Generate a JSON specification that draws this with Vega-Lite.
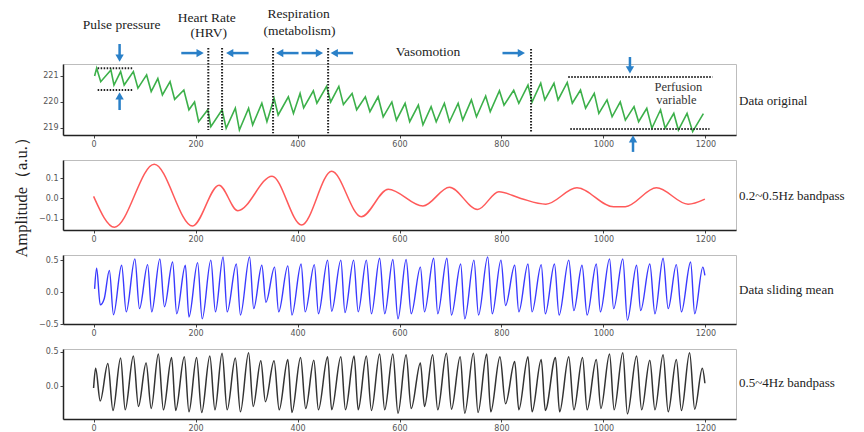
{
"$schema": "https://vega.github.io/schema/vega-lite/v6.json",
"padding": {"left": 13, "top": 6, "right": 0, "bottom": 0},
"background": "white",
"bounds": "flush",
"spacing": 25,
"datasets": {
"orig": [{"x":2,"y":221.0},{"x":6,"y":221.3},{"x":14,"y":220.78},{"x":34,"y":221.23},{"x":40,"y":220.65},{"x":53,"y":221.17},{"x":60,"y":220.65},{"x":78,"y":221.17},{"x":87,"y":220.53},{"x":104,"y":221.04},{"x":113,"y":220.4},{"x":126,"y":220.9},{"x":135,"y":220.27},{"x":150,"y":220.78},{"x":159,"y":220.1},{"x":177,"y":220.46},{"x":187,"y":219.7},{"x":198,"y":220.0},{"x":206,"y":219.24},{"x":224,"y":219.7},{"x":230,"y":219.05},{"x":252,"y":219.7},{"x":260,"y":218.99},{"x":278,"y":219.76},{"x":286,"y":218.92},{"x":304,"y":219.76},{"x":312,"y":219.12},{"x":330,"y":219.95},{"x":340,"y":219.24},{"x":354,"y":220.14},{"x":362,"y":219.5},{"x":382,"y":220.2},{"x":392,"y":219.56},{"x":405,"y":220.33},{"x":412,"y":219.77},{"x":431,"y":220.43},{"x":438,"y":219.95},{"x":457,"y":220.6},{"x":465,"y":220.0},{"x":481,"y":220.6},{"x":490,"y":219.9},{"x":507,"y":220.33},{"x":516,"y":219.7},{"x":533,"y":220.2},{"x":542,"y":219.63},{"x":558,"y":220.2},{"x":568,"y":219.43},{"x":585,"y":220.0},{"x":594,"y":219.3},{"x":611,"y":219.95},{"x":620,"y":219.24},{"x":637,"y":219.88},{"x":646,"y":219.12},{"x":662,"y":219.82},{"x":672,"y":219.24},{"x":688,"y":219.95},{"x":698,"y":219.24},{"x":715,"y":219.95},{"x":724,"y":219.3},{"x":741,"y":220.08},{"x":751,"y":219.43},{"x":769,"y":220.23},{"x":778,"y":219.63},{"x":796,"y":220.43},{"x":805,"y":219.88},{"x":824,"y":220.45},{"x":834,"y":219.95},{"x":852,"y":220.65},{"x":860,"y":220.0},{"x":877,"y":220.72},{"x":885,"y":220.08},{"x":903,"y":220.72},{"x":911,"y":220.08},{"x":929,"y":220.75},{"x":939,"y":219.95},{"x":955,"y":220.46},{"x":965,"y":219.76},{"x":982,"y":220.33},{"x":991,"y":219.56},{"x":1007,"y":220.08},{"x":1017,"y":219.43},{"x":1033,"y":220.0},{"x":1043,"y":219.3},{"x":1060,"y":219.82},{"x":1069,"y":219.24},{"x":1085,"y":219.76},{"x":1095,"y":218.99},{"x":1112,"y":219.7},{"x":1121,"y":218.99},{"x":1138,"y":219.56},{"x":1147,"y":218.92},{"x":1164,"y":219.56},{"x":1175,"y":218.86},{"x":1196,"y":219.55}],
"red": [{"x":0,"y":0.01},{"x":41,"y":-0.141},{"x":119,"y":0.167},{"x":194,"y":-0.135},{"x":246,"y":0.065},{"x":283,"y":-0.06},{"x":350,"y":0.109},{"x":408,"y":-0.13},{"x":467,"y":0.133},{"x":525,"y":-0.089},{"x":578,"y":0.045},{"x":646,"y":-0.037},{"x":698,"y":0.055},{"x":753,"y":-0.054},{"x":795,"y":0.033},{"x":838,"y":0.0},{"x":887,"y":-0.028},{"x":948,"y":0.052},{"x":1020,"y":-0.041},{"x":1043,"y":-0.04},{"x":1104,"y":0.052},{"x":1166,"y":-0.028},{"x":1199,"y":-0.003}],
"blue": [{"x":2,"y":0.05},{"x":6,"y":0.375},{"x":13,"y":-0.2},{"x":21,"y":-0.1},{"x":31,"y":0.34},{"x":39,"y":-0.355},{"x":55,"y":0.42},{"x":64,"y":-0.31},{"x":81,"y":0.52},{"x":90,"y":-0.26},{"x":106,"y":0.43},{"x":114,"y":-0.31},{"x":130,"y":0.52},{"x":139,"y":-0.23},{"x":155,"y":0.47},{"x":163,"y":-0.34},{"x":180,"y":0.42},{"x":187,"y":-0.39},{"x":204,"y":0.46},{"x":213,"y":-0.42},{"x":230,"y":0.5},{"x":239,"y":-0.31},{"x":254,"y":0.55},{"x":262,"y":-0.31},{"x":280,"y":0.44},{"x":288,"y":-0.36},{"x":306,"y":0.55},{"x":314,"y":-0.26},{"x":330,"y":0.42},{"x":338,"y":-0.16},{"x":355,"y":0.39},{"x":363,"y":-0.31},{"x":381,"y":0.41},{"x":389,"y":-0.36},{"x":407,"y":0.44},{"x":415,"y":-0.31},{"x":433,"y":0.43},{"x":441,"y":-0.34},{"x":459,"y":0.5},{"x":467,"y":-0.3},{"x":485,"y":0.5},{"x":493,"y":-0.32},{"x":510,"y":0.5},{"x":519,"y":-0.31},{"x":535,"y":0.5},{"x":545,"y":-0.34},{"x":561,"y":0.53},{"x":571,"y":-0.34},{"x":587,"y":0.51},{"x":597,"y":-0.42},{"x":613,"y":0.51},{"x":623,"y":-0.34},{"x":641,"y":0.39},{"x":649,"y":-0.31},{"x":667,"y":0.53},{"x":675,"y":-0.34},{"x":693,"y":0.53},{"x":702,"y":-0.36},{"x":720,"y":0.44},{"x":728,"y":-0.42},{"x":746,"y":0.5},{"x":755,"y":-0.36},{"x":773,"y":0.55},{"x":782,"y":-0.34},{"x":799,"y":0.5},{"x":808,"y":-0.21},{"x":826,"y":0.42},{"x":834,"y":-0.31},{"x":852,"y":0.44},{"x":860,"y":-0.31},{"x":878,"y":0.43},{"x":886,"y":-0.34},{"x":904,"y":0.44},{"x":913,"y":-0.36},{"x":932,"y":0.5},{"x":942,"y":-0.29},{"x":958,"y":0.42},{"x":968,"y":-0.36},{"x":986,"y":0.44},{"x":994,"y":-0.31},{"x":1012,"y":0.52},{"x":1020,"y":-0.26},{"x":1038,"y":0.52},{"x":1047,"y":-0.44},{"x":1065,"y":0.42},{"x":1073,"y":-0.29},{"x":1091,"y":0.44},{"x":1101,"y":-0.34},{"x":1117,"y":0.53},{"x":1127,"y":-0.26},{"x":1143,"y":0.43},{"x":1153,"y":-0.31},{"x":1171,"y":0.47},{"x":1179,"y":-0.34},{"x":1195,"y":0.39},{"x":1199,"y":0.26}],
"black": [{"x":0,"y":-0.03},{"x":4,"y":0.26},{"x":13,"y":-0.22},{"x":28,"y":0.33},{"x":38,"y":-0.36},{"x":53,"y":0.41},{"x":62,"y":-0.35},{"x":78,"y":0.44},{"x":88,"y":-0.3},{"x":103,"y":0.34},{"x":113,"y":-0.33},{"x":127,"y":0.47},{"x":137,"y":-0.35},{"x":153,"y":0.42},{"x":161,"y":-0.36},{"x":178,"y":0.43},{"x":187,"y":-0.38},{"x":202,"y":0.42},{"x":212,"y":-0.39},{"x":228,"y":0.44},{"x":238,"y":-0.35},{"x":252,"y":0.48},{"x":262,"y":-0.35},{"x":278,"y":0.41},{"x":288,"y":-0.38},{"x":304,"y":0.49},{"x":313,"y":-0.3},{"x":328,"y":0.37},{"x":337,"y":-0.23},{"x":354,"y":0.37},{"x":364,"y":-0.35},{"x":381,"y":0.39},{"x":389,"y":-0.39},{"x":406,"y":0.42},{"x":416,"y":-0.33},{"x":432,"y":0.38},{"x":441,"y":-0.35},{"x":459,"y":0.43},{"x":467,"y":-0.35},{"x":485,"y":0.43},{"x":494,"y":-0.35},{"x":511,"y":0.44},{"x":519,"y":-0.35},{"x":535,"y":0.44},{"x":545,"y":-0.36},{"x":561,"y":0.47},{"x":571,"y":-0.35},{"x":587,"y":0.47},{"x":597,"y":-0.4},{"x":613,"y":0.46},{"x":623,"y":-0.33},{"x":641,"y":0.34},{"x":649,"y":-0.3},{"x":665,"y":0.46},{"x":675,"y":-0.35},{"x":692,"y":0.48},{"x":702,"y":-0.34},{"x":719,"y":0.43},{"x":728,"y":-0.4},{"x":745,"y":0.48},{"x":754,"y":-0.39},{"x":771,"y":0.47},{"x":779,"y":-0.38},{"x":797,"y":0.43},{"x":808,"y":-0.26},{"x":826,"y":0.36},{"x":834,"y":-0.35},{"x":852,"y":0.43},{"x":860,"y":-0.38},{"x":878,"y":0.39},{"x":886,"y":-0.36},{"x":906,"y":0.42},{"x":914,"y":-0.38},{"x":932,"y":0.43},{"x":942,"y":-0.35},{"x":959,"y":0.42},{"x":968,"y":-0.35},{"x":986,"y":0.39},{"x":995,"y":-0.33},{"x":1012,"y":0.47},{"x":1021,"y":-0.35},{"x":1038,"y":0.49},{"x":1047,"y":-0.41},{"x":1065,"y":0.44},{"x":1075,"y":-0.35},{"x":1091,"y":0.38},{"x":1101,"y":-0.35},{"x":1117,"y":0.46},{"x":1127,"y":-0.38},{"x":1143,"y":0.39},{"x":1153,"y":-0.36},{"x":1169,"y":0.49},{"x":1179,"y":-0.34},{"x":1194,"y":0.26},{"x":1199,"y":0.04}],
"dotted": [{"x":225,"y":222.08,"x2":225,"y2":218.92},{"x":252,"y":222.08,"x2":252,"y2":218.92},{"x":352,"y":222.08,"x2":352,"y2":218.8},{"x":460,"y":222.08,"x2":460,"y2":218.8},{"x":858,"y":222.04,"x2":858,"y2":218.85},{"x":8,"y":221.3,"x2":78,"y2":221.3},{"x":8,"y":220.46,"x2":78,"y2":220.46},{"x":931,"y":220.96,"x2":1214,"y2":220.96},{"x":935,"y":218.96,"x2":1208,"y2":218.96}],
"shafts": [{"x":51,"y":222.23,"x2":51,"y2":221.69},{"x":51,"y":219.69,"x2":51,"y2":220.23},{"x":1052,"y":221.73,"x2":1052,"y2":221.23},{"x":1058,"y":218.08,"x2":1058,"y2":218.58},{"x":172,"y":221.88,"x2":209,"y2":221.88},{"x":304,"y":221.88,"x2":267,"y2":221.88},{"x":402,"y":221.88,"x2":365,"y2":221.88},{"x":408,"y":221.88,"x2":443,"y2":221.88},{"x":509,"y":221.88,"x2":472,"y2":221.88},{"x":802,"y":221.88,"x2":839,"y2":221.88}],
"heads": [{"x":51,"y":221.69,"d":"down"},{"x":51,"y":220.23,"d":"up"},{"x":1052,"y":221.23,"d":"down"},{"x":1058,"y":218.58,"d":"up"},{"x":209,"y":221.88,"d":"right"},{"x":267,"y":221.88,"d":"left"},{"x":365,"y":221.88,"d":"left"},{"x":443,"y":221.88,"d":"right"},{"x":472,"y":221.88,"d":"left"},{"x":839,"y":221.88,"d":"right"}],
"notes": [{"x":55,"y":222.96,"t":"Pulse pressure"},{"x":222,"y":223.23,"t":"Heart Rate"},{"x":226,"y":222.65,"t":"(HRV)"},{"x":402,"y":223.38,"t":"Respiration"},{"x":404,"y":222.73,"t":"(metabolism)"},{"x":656,"y":221.92,"t":"Vasomotion"}],
"perf": [{"x":1147,"y":220.58,"t":"Perfusion"},{"x":1143,"y":220.08,"t":"variable"}]
},
"vconcat": [
{
"width": 673, "height": 71,
"encoding": {
"x": {"field":"x","type":"quantitative","scale":{"domain":[-60,1260],"nice":false,"zero":false},"axis":{"values":[0,200,400,600,800,1000,1200],"format":"d","title":null}},
"y": {"field":"y","type":"quantitative","scale":{"domain":[218.73,221.46],"nice":false,"zero":false},"axis":{"values":[219,220,221],"format":"d","title":null}}
},
"layer": [
{"data":{"name":"orig"},"mark":{"type":"line","color":"#3cb04a","strokeWidth":1.6}},
{"data":{"name":"dotted"},"mark":{"type":"rule","color":"#222","strokeWidth":2,"strokeDash":[1.5,1.5]},"encoding":{"x2":{"field":"x2"},"y2":{"field":"y2"}}},
{"data":{"name":"shafts"},"mark":{"type":"rule","color":"#2a80c8","strokeWidth":2.5},"encoding":{"x2":{"field":"x2"},"y2":{"field":"y2"}}},
{"data":{"name":"heads"},"mark":{"type":"point","filled":true,"color":"#2a80c8","size":70,"opacity":1},"encoding":{"shape":{"field":"d","type":"nominal","scale":{"domain":["right","left","down","up"],"range":["triangle-right","triangle-left","triangle-down","triangle-up"]},"legend":null}}},
{"data":{"name":"notes"},"mark":{"type":"text","font":"Liberation Serif, Times New Roman, serif","fontSize":13.5,"color":"#222"},"encoding":{"text":{"field":"t"}}},
{"data":{"name":"perf"},"mark":{"type":"text","font":"Liberation Serif, Times New Roman, serif","fontSize":12.5,"color":"#333"},"encoding":{"text":{"field":"t"}}},
{"data":{"values":[{"x":1266,"y":220.04,"t":"Data original"}]},"mark":{"type":"text","align":"left","font":"Liberation Serif, Times New Roman, serif","fontSize":13,"color":"#222"},"encoding":{"text":{"field":"t"}}}
]
},
{
"width": 673, "height": 70,
"encoding": {
"x": {"field":"x","type":"quantitative","scale":{"domain":[-60,1260],"nice":false,"zero":false},"axis":{"values":[0,200,400,600,800,1000,1200],"format":"d","title":null}},
"y": {"field":"y","type":"quantitative","scale":{"domain":[-0.154,0.188],"nice":false,"zero":false},"axis":{"values":[-0.1,0,0.1],"format":".1f","title":null}}
},
"layer": [
{"data":{"name":"red"},"mark":{"type":"line","color":"#ff5a5a","strokeWidth":1.5,"interpolate":"monotone"}},
{"data":{"values":[{"x":1266,"y":0.01,"t":"0.2~0.5Hz bandpass"}]},"mark":{"type":"text","align":"left","font":"Liberation Serif, Times New Roman, serif","fontSize":13,"color":"#222"},"encoding":{"text":{"field":"t"}}},
{"data":{"values":[{"x":-140,"y":0.025,"t":"Amplitude（a.u.）"}]},"mark":{"type":"text","angle":270,"align":"center","baseline":"middle","font":"Liberation Serif, Times New Roman, serif","fontSize":16.5,"color":"#222"},"encoding":{"text":{"field":"t"}}}
]
},
{
"width": 673, "height": 69,
"encoding": {
"x": {"field":"x","type":"quantitative","scale":{"domain":[-60,1260],"nice":false,"zero":false},"axis":{"values":[0,200,400,600,800,1000,1200],"format":"d","title":null}},
"y": {"field":"y","type":"quantitative","scale":{"domain":[-0.5,0.58],"nice":false,"zero":false},"axis":{"values":[-0.5,0,0.5],"format":".1f","title":null}}
},
"layer": [
{"data":{"name":"blue"},"mark":{"type":"line","color":"#3a3aff","strokeWidth":1.4,"interpolate":"monotone"}},
{"data":{"values":[{"x":1266,"y":0.03,"t":"Data sliding mean"}]},"mark":{"type":"text","align":"left","font":"Liberation Serif, Times New Roman, serif","fontSize":13,"color":"#222"},"encoding":{"text":{"field":"t"}}}
]
},
{
"width": 673, "height": 70,
"encoding": {
"x": {"field":"x","type":"quantitative","scale":{"domain":[-60,1260],"nice":false,"zero":false},"axis":{"values":[0,200,400,600,800,1000,1200],"format":"d","title":null}},
"y": {"field":"y","type":"quantitative","scale":{"domain":[-0.485,0.544],"nice":false,"zero":false},"axis":{"values":[0,0.5],"format":".1f","title":null}}
},
"layer": [
{"data":{"name":"black"},"mark":{"type":"line","color":"#333333","strokeWidth":1.5,"interpolate":"monotone"}},
{"data":{"values":[{"x":1266,"y":0.044,"t":"0.5~4Hz bandpass"}]},"mark":{"type":"text","align":"left","font":"Liberation Serif, Times New Roman, serif","fontSize":13,"color":"#222"},"encoding":{"text":{"field":"t"}}}
]
}
],
"config": {
"view": {"stroke": "#bdbdbd", "strokeWidth": 1},
"axis": {"grid": false, "labelFont": "DejaVu Sans", "labelFontSize": 8, "labelColor": "#555", "tickColor": "#444", "tickSize": 3, "tickWidth": 1, "domainColor": "#222", "domainWidth": 1.5, "labelPadding": 2},
"text": {"font": "Liberation Serif"}
}
}
